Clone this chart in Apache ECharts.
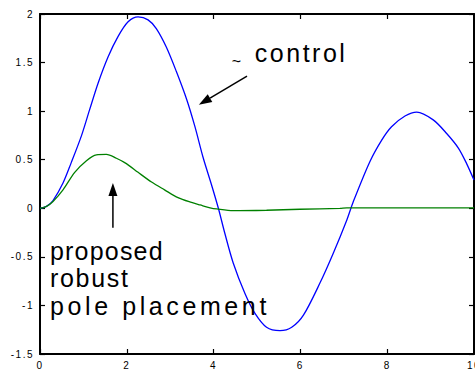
<!DOCTYPE html>
<html>
<head>
<meta charset="utf-8">
<script src="https://cdn.jsdelivr.net/npm/echarts@6/dist/echarts.min.js"></script>
<style>
  html, body { margin: 0; padding: 0; background: #fff; }
  #chart { width: 475px; height: 372px; }
</style>
</head>
<body>
<div id="chart"></div>
<script>
// Response of the classical controller (blue)
const controlT = [0, 0.15, 0.30, 0.53, 0.72, 0.95, 1.14, 1.34, 1.57, 1.80, 2.03, 2.26, 2.49, 2.68, 2.91, 3.14, 3.38, 3.57, 3.76, 3.96, 4.11, 4.26, 4.45, 4.72, 4.95, 5.22, 5.53, 5.80, 6.07, 6.45, 6.76, 7.07, 7.22, 7.60, 7.87, 8.10, 8.41, 8.68, 9.06, 9.37, 9.64, 9.83, 10.0];
const controlY = [0, 0.02, 0.08, 0.26, 0.47, 0.74, 1.01, 1.29, 1.56, 1.77, 1.92, 1.97, 1.94, 1.85, 1.66, 1.41, 1.12, 0.84, 0.52, 0.23, 0.0, -0.26, -0.56, -0.875, -1.08, -1.225, -1.26, -1.225, -1.10, -0.77, -0.46, -0.12, 0.07, 0.48, 0.70, 0.84, 0.95, 0.99, 0.91, 0.77, 0.62, 0.46, 0.29];

// Response with the proposed robust pole placement (green)
const robustT = [0, 0.15, 0.30, 0.53, 0.80, 1.07, 1.30, 1.53, 1.76, 1.99, 2.26, 2.57, 2.87, 3.18, 3.49, 3.69, 3.92, 4.07, 4.45, 5.22, 5.99, 6.91, 7.07, 10.0];
const robustY = [0, 0.02, 0.07, 0.19, 0.37, 0.49, 0.55, 0.555, 0.515, 0.46, 0.37, 0.27, 0.19, 0.11, 0.06, 0.034, 0.005, -0.007, -0.025, -0.02, -0.01, 0.0, 0.005, 0.005];

// Axis ranges and tick spacing
const xRange = [0, 10], xStep = 2;
const yRange = [-1.5, 2], yStep = 0.5;

// Callout texts
const calloutTexts = ['control', 'proposed', 'robust', 'pole placement'];

// Annotations in data units: text anchors are left edge / baseline
const labelFont = 25;
const annotations = [
  { kind: 'text', text: calloutTexts[0], at: [4.95, 1.51], size: labelFont },
  { kind: 'text', text: calloutTexts[1], at: [0.23, -0.53], size: labelFont },
  { kind: 'text', text: calloutTexts[2], at: [0.23, -0.81], size: labelFont },
  { kind: 'text', text: calloutTexts[3], at: [0.23, -1.10], size: labelFont },
  { kind: 'text', text: '~', at: [4.42, 1.455], size: 16 },
  { kind: 'arrow', from: [4.77, 1.36], at: [3.66, 1.065] },
  { kind: 'arrow', from: [1.68, -0.20], at: [1.68, 0.26] }
];

// Spaced lettering for callouts and tick numbers
const letterGap = { 'control': 2.5, 'proposed': 1.2, 'robust': 1.7, 'pole placement': 3.6 };

const zip = (a, b) => a.map((v, i) => [v, b[i]]);

const dom = document.getElementById('chart');
const chart = echarts.init(dom, null, { renderer: 'svg' });

function makeAxis(range, step, pos, withLabels) {
  return {
    type: 'value', position: pos, min: range[0], max: range[1], interval: step,
    axisLine: { show: true, onZero: false, lineStyle: { color: '#000', width: 2 } },
    axisTick: { show: true, inside: true, length: 5, lineStyle: { color: '#000', width: 1.2 } },
    splitLine: { show: false },
    axisLabel: withLabels
      ? { show: true, color: '#000', fontSize: 10, fontFamily: 'Liberation Sans, Arial, sans-serif', margin: 6 }
      : { show: false }
  };
}

function renderAnnotation(params, api) {
  const a = annotations[params.dataIndex];
  const t = api.coord(a.at);
  if (a.kind === 'text') {
    return {
      type: 'text', silent: true,
      style: {
        text: a.text, x: t[0], y: t[1] - 0.3465 * a.size,
        fill: '#000', font: a.size + 'px "Liberation Sans", Arial, sans-serif',
        align: 'left', verticalAlign: 'middle'
      }
    };
  }
  const f = api.coord(a.from);
  const dx = t[0] - f[0], dy = t[1] - f[1];
  const len = Math.hypot(dx, dy);
  const ux = dx / len, uy = dy / len;
  const headLen = 13, halfW = 4.5;
  const bx = t[0] - ux * headLen, by = t[1] - uy * headLen;
  const nx = -uy, ny = ux;
  return {
    type: 'group', silent: true,
    children: [
      { type: 'line', shape: { x1: f[0], y1: f[1], x2: bx, y2: by },
        style: { stroke: '#000', lineWidth: 1.5 } },
      { type: 'polygon',
        shape: { points: [[t[0], t[1]], [bx + nx * halfW, by + ny * halfW], [bx - nx * halfW, by - ny * halfW]] },
        style: { fill: '#000' } }
    ]
  };
}

chart.setOption({
  animation: false,
  grid: { left: 40, right: 1, top: 14, bottom: 18, outerBoundsMode: 'none' },
  xAxis: [makeAxis(xRange, xStep, 'bottom', true), makeAxis(xRange, xStep, 'top', false)],
  yAxis: [makeAxis(yRange, yStep, 'left', true), makeAxis(yRange, yStep, 'right', false)],
  series: [
    { name: 'control', type: 'line', xAxisIndex: 0, yAxisIndex: 0,
      data: zip(controlT, controlY), symbol: 'none', smooth: 0.3,
      lineStyle: { color: '#0000ff', width: 1.3 } },
    { name: 'proposed robust pole placement', type: 'line', xAxisIndex: 0, yAxisIndex: 0,
      data: zip(robustT, robustY), symbol: 'none', smooth: 0.3,
      lineStyle: { color: '#008000', width: 1.3 } },
    { name: 'annotations', type: 'custom', xAxisIndex: 0, yAxisIndex: 0, z: 10, silent: true, clip: false,
      data: annotations.map(a => a.at), renderItem: renderAnnotation }
  ]
});

function spaceLetters() {
  dom.querySelectorAll('text').forEach(el => {
    const t = el.textContent.trim();
    let gap = null;
    if (letterGap[t] !== undefined) gap = letterGap[t];
    else if (/^-?[\d.]+$/.test(t)) gap = 1.5;
    if (gap !== null && el.getAttribute('letter-spacing') !== gap + 'px') {
      el.setAttribute('letter-spacing', gap + 'px');
    }
  });
}
chart.on('finished', spaceLetters);
chart.on('rendered', spaceLetters);
new MutationObserver(spaceLetters).observe(dom, { childList: true, subtree: true });
spaceLetters();
setTimeout(spaceLetters, 0);
</script>
</body>
</html>
